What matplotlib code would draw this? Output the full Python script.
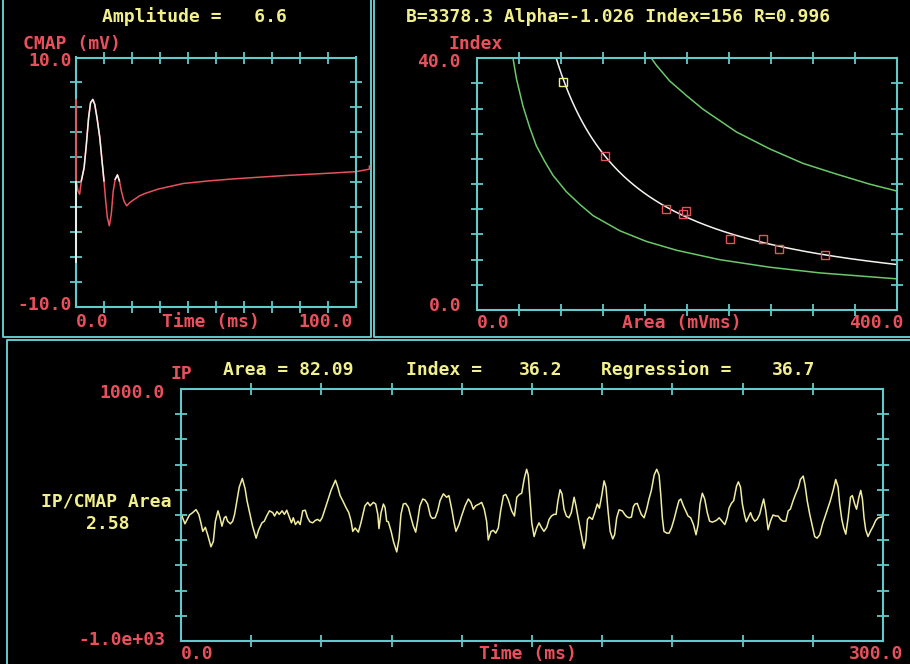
import numpy as np
import matplotlib
matplotlib.use('Agg')
import matplotlib.pyplot as plt

# colours of the old DOS style screen
CYAN = '#62caca'
RED = '#e8505c'
YELLOW = '#f2f08c'
GREEN = '#6cc86a'
WHITE = '#f4f4ee'
TRACE = '#f0eca0'

# CMAP waveform (ms, mV)
cmap_time = [0.1, 0.7, 1.3, 1.9, 2.9, 3.7, 4.5, 5.2, 6.0, 6.7, 7.5, 8.5, 9.3, 10.0,
             10.6, 11.2, 11.9, 12.6, 13.3, 14.0, 14.8, 15.5, 16.2, 17.1, 18.1, 19.2,
             20.9, 22.7, 24.5, 29.3, 38.3, 47.0, 56.2, 74.0, 90.0, 100.0, 104.8, 104.8]
cmap_mv = [0.11, -0.69, -0.96, 0.11, 1.17, 3.04, 5.17, 6.37, 6.64, 6.24, 5.17, 3.57, 1.71, 0.11,
           -1.49, -2.83, -3.49, -2.56, -0.69, 0.24, 0.59, 0.11, -0.69, -1.49, -1.89, -1.63,
           -1.36, -1.09, -0.91, -0.55, -0.10, 0.10, 0.27, 0.53, 0.72, 0.85, 1.05, 1.30]
amplitude = 6.6
cursor_low = -6.4

# area / index regression
area = [82.09, 122.2, 180.3, 196.2, 199.4, 241.3, 272.4, 287.7, 331.5]
index = [36.2, 24.4, 16.1, 15.2, 15.7, 11.3, 11.3, 9.75, 8.8]
B = 3378.3
alpha = -1.026
lower_area = [34.3, 37.5, 43.8, 50.2, 56.5, 64.5, 72.4, 85.1, 97.8, 110.5, 135.9,
              161.3, 189.9, 231.1, 278.8, 326.4, 400.0]
lower_index = [40.0, 36.8, 32.4, 29.0, 26.1, 23.6, 21.4, 18.8, 16.8, 15.0, 12.6,
               10.9, 9.5, 8.0, 6.8, 5.9, 4.95]
upper_area = [166.1, 170.8, 183.5, 200.0, 215.3, 247.0, 278.8, 310.5, 342.3, 374.0, 400.0]
upper_index = [40.0, 38.9, 36.4, 34.0, 31.9, 28.3, 25.6, 23.3, 21.6, 20.0, 18.9]

# IP trace (ms, IP)
ip_time = [0.0, 0.4, 1.7, 3.6, 5.0, 6.4, 7.6, 8.5, 9.3, 10.4, 11.4, 12.8, 13.8, 14.7, 15.8,
           16.7, 17.5, 18.5, 19.2, 19.9, 21.1, 22.1, 22.9, 23.9, 24.9, 26.2, 27.4, 28.2,
           29.5, 30.6, 32.1, 33.2, 34.6, 35.6, 36.6, 37.8, 39.2, 40.0, 41.0, 42.0, 43.2,
           44.2, 45.2, 46.3, 47.2, 48.0, 48.9, 50.0, 50.9, 52.0, 53.1, 54.1, 55.1, 56.3,
           57.4, 58.4, 59.4, 60.3, 61.3, 62.7, 64.1, 66.0, 67.0, 68.0, 69.1, 70.5, 71.7,
           72.7, 73.4, 74.4,
           75.8, 76.9, 78.6, 79.8, 80.8, 82.2, 83.2, 84.1, 84.6, 85.5, 86.5, 87.2, 87.9,
           88.6, 89.8, 90.8, 92.2, 93.2, 94.0, 95.0, 96.0, 97.2, 98.3, 99.3, 100.3, 101.1,
           102.1, 103.3, 104.3, 105.4, 106.6, 107.4, 108.6, 109.7, 110.7, 112.1, 113.5,
           114.5, 115.7, 116.7, 117.5, 118.8, 119.9, 121.4, 122.8, 123.9, 124.9, 125.9,
           127.4, 128.5, 129.6, 130.6, 131.3, 132.5, 133.5, 134.5, 135.6, 136.6, 137.8,
           138.8, 139.9, 141.3, 142.5, 143.5, 144.6, 145.6, 146.7, 147.7, 148.4, 149.2,
           149.9, 150.9,
           152.0, 153.0, 154.0, 155.1, 156.3, 157.3, 158.3, 159.4, 160.3, 161.1, 162.0,
           162.8, 163.7, 164.7, 165.8, 166.8, 168.0, 168.8, 169.7, 170.8, 171.5, 172.2,
           173.0, 173.7, 174.5, 175.8, 176.8, 177.9, 178.8, 179.8, 180.8, 181.6, 182.5,
           183.4, 184.5, 185.3, 186.2, 187.2, 188.6, 189.6, 190.5, 191.5, 192.5, 193.3,
           194.0, 195.0, 195.7, 196.7, 197.9, 199.0, 200.0, 201.0, 202.2, 203.3, 204.3,
           205.0, 205.7, 206.4, 207.6, 208.6, 209.6, 210.7, 211.8, 212.8, 213.6, 214.7,
           215.7, 216.7, 217.8, 219.0, 220.1, 221.0, 221.8, 222.8, 223.8, 224.9, 225.9,
           227.1,
           228.8, 230.0, 231.4, 232.4, 233.4, 234.2, 235.2, 236.2, 237.4, 238.2, 239.1,
           239.9, 240.9, 241.6, 242.4, 243.4, 244.2, 245.2, 246.2, 247.3, 248.2, 249.0,
           249.9, 250.9, 251.9, 253.0, 254.2, 255.2, 256.2, 257.3, 258.5, 259.5, 260.4,
           261.6, 262.7, 263.9, 264.7, 265.9, 266.7, 267.6, 268.7, 269.8, 270.8, 271.8,
           273.0, 274.1, 275.3, 276.5, 277.5, 278.7, 279.8, 280.8, 281.5, 282.4, 283.2,
           284.1, 285.1, 286.1, 286.9, 287.9, 288.7, 289.7, 290.5, 291.2, 291.9, 292.6,
           293.6, 294.6, 295.8, 296.9, 297.9, 299.3, 300.0]
ip_value = [-16, -8, -70, 0, 19, 43, 5, -62, -130, -98, -157, -252, -211, -49, 33,
            -22, -89, -22, -11, -49, -70, -49, 5, 114, 222, 290, 209, 114,
            5, -89, -184, -117, -62, -49, -8, 33, 19, -8, 27, 5, 33,
            5, 38, -16, -62, -22, -76, -49, -76, 33, 38, -22, -54, -62,
            -43, -35, -49, -22, 33, 114, 195, 276, 222, 154, 114, 60, 19,
            -49, -130, -103,
            -136, -62, 73, 100, 73, 100, 87, 5, -108, 19, 87, 60, -49,
            -54, -130, -211, -293, -184, 5, 87, 92, 60, -22, -89, -136, -49,
            73, 127, 119, 87, -8, -27, -22, 33, 114, 168, 141,
            154, 46, -62, -130, -76, -8, 73, 127, 100, 46, 73,
            87, 100, 46, -49, -198, -130, -122, -144, -103, 33, 154,
            163, 119, 33, -8, 141, 163, 173, 290, 363, 317, 114,
            -62, -171,
            -103, -62, -98, -130, -98, -35, -8, 5, 5, 114, 201,
            168, 46, -8, -22, 19, 141, 73, -22, -130, -198, -266,
            -198, -35, -16, -35, 19, 87, 54, 154, 271, 222, 33,
            -130, -190, -157, -22, 41, 33, 5, -14, -22, -16, 65,
            87, 92, 54, 5, -22, 46, 127, 195, 317, 363, 317,
            168, -22, -130, -144, -144, -103, -35, 46, 114, 127, 73,
            33, -8, -22, -76, -157, -76, 87, 173, 127, 19, -49,
            -57,
            -43, -22, -54, -76, -22, 54, 92, 114, 228, 263, 222,
            87, -8, -54, -22, 19, -22, -49, -35, 5, 73, 127,
            33, -117, -49, 0, -8, -8, -35, -49, -49, 33, 46,
            114, 168, 222, 282, 309, 236, 114, 5, -89, -171, -184,
            -157, -76, -8, 60, 114, 195, 282, 222, 87, -35, -103,
            -152, -22, 141, 154, 87, 46, 141, 195, 127, -22, -117,
            -171, -130, -89, -43, -22, -16, -16]

W, H = 910, 664
fig = plt.figure(figsize=(W / 100, H / 100), dpi=100, facecolor='black')

# background layer in pixel units for frames and texts
bg = fig.add_axes([0, 0, 1, 1])
bg.set_xlim(0, W)
bg.set_ylim(H, 0)
bg.axis('off')


def px_axes(left, top, right, bottom):
    return fig.add_axes([left / W, 1 - bottom / H, (right - left) / W, (bottom - top) / H])


def style(ax, xlim, ylim):
    ax.set_facecolor('black')
    ax.set_xlim(*xlim)
    ax.set_ylim(*ylim)
    ax.set_xticks(np.linspace(xlim[0], xlim[1], 11)[1:-1])
    ax.set_yticks(np.linspace(ylim[0], ylim[1], 11)[1:-1])
    ax.tick_params(direction='inout', length=9, width=1.3, color=CYAN,
                   top=True, right=True, labelbottom=False, labelleft=False)
    for s in ax.spines.values():
        s.set_color(CYAN)
        s.set_linewidth(1.5)


def label(x, y, s, color, ha='left'):
    bg.text(x, y, s, color=color, ha=ha, va='baseline', fontsize=13,
            family='DejaVu Sans Mono', weight='bold')


# panel frames (no right / bottom edge on the screen)
frame = dict(color=CYAN, lw=1.4)
bg.plot([3, 3, 371, 371], [0, 337, 337, 0], **frame)
bg.plot([374, 374, 910], [0, 337, 337], **frame)
bg.plot([7, 7, 910], [664, 340, 340], **frame)

# ---- CMAP panel
ax1 = px_axes(76, 57.5, 356, 307)
style(ax1, (0, 100), (-10, 10))
t = np.array(cmap_time)
mv = np.array(cmap_mv)
ax1.plot([0, 0], [0, amplitude], color=RED, lw=1.3, clip_on=False, zorder=4)
ax1.plot([0, 0], [0, cursor_low], color=WHITE, lw=1.3, clip_on=False, zorder=4)
ax1.plot(t, mv, color=RED, lw=1.1, clip_on=False)
ax1.plot(t, np.where((mv >= 0) & (t < 17), mv, np.nan), color=WHITE, lw=1.1)

label(194, 22, 'Amplitude =   6.6', YELLOW, ha='center')
label(23, 49, 'CMAP (mV)', RED)
label(72, 66, '10.0', RED, ha='right')
label(72, 310, '-10.0', RED, ha='right')
label(76, 327, '0.0', RED)
label(162, 327, 'Time (ms)', RED)
label(353, 327, '100.0', RED, ha='right')

# ---- regression panel
ax2 = px_axes(477, 58.3, 897, 310)
style(ax2, (0, 400), (0, 40))
ax2.plot(lower_area, lower_index, color=GREEN, lw=1.1)
ax2.plot(upper_area, upper_index, color=GREEN, lw=1.1)
fit_area = np.linspace(74, 400, 200)
ax2.plot(fit_area, B * fit_area ** alpha, color=WHITE, lw=1.1)
ax2.plot(area[1:], index[1:], 's', mfc='none', mec=RED, ms=6, mew=1.0)
ax2.plot(area[:1], index[:1], 's', mfc='none', mec=YELLOW, ms=6, mew=1.0)

label(406, 22, 'B=3378.3 Alpha=-1.026 Index=156 R=0.996', YELLOW)
label(449, 49, 'Index', RED)
label(461, 67, '40.0', RED, ha='right')
label(461, 311, '0.0', RED, ha='right')
label(477, 328, '0.0', RED)
label(622, 328, 'Area (mVms)', RED)
label(903, 328, '400.0', RED, ha='right')

# ---- IP panel
ax3 = px_axes(181, 389, 883, 641)
style(ax3, (0, 300), (-1000, 1000))
ax3.plot(ip_time, ip_value, color=TRACE, lw=1.1)

label(170, 379, 'IP', RED)
label(223, 375, 'Area = 82.09', YELLOW)
label(406, 375, 'Index =', YELLOW)
label(519, 375, '36.2', YELLOW)
label(601, 375, 'Regression =', YELLOW)
label(772, 375, '36.7', YELLOW)
label(165, 398, '1000.0', RED, ha='right')
label(41, 507, 'IP/CMAP Area', YELLOW)
label(86, 529, '2.58', YELLOW)
label(165, 645, '-1.0e+03', RED, ha='right')
label(181, 659, '0.0', RED)
label(479, 659, 'Time (ms)', RED)
label(903, 659, '300.0', RED, ha='right')

fig.savefig('out.png', dpi=100, facecolor='black')
